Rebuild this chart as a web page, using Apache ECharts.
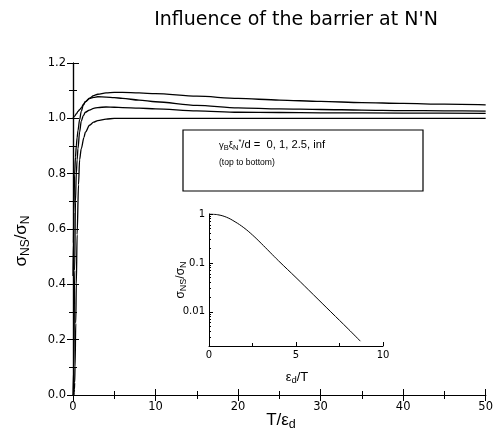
<!DOCTYPE html>
<html><head><meta charset="utf-8">
<script src="https://cdn.jsdelivr.net/npm/echarts@6/dist/echarts.min.js"></script>
<style>html,body{margin:0;padding:0;background:#fff}#c{width:496px;height:440px}</style>
</head><body><div id="c"></div>
<script>
// Main panel: sigma_NS/sigma_N vs T/eps_d, barrier gamma_B xi_N*/d = 0, 1, 2.5, inf
const tA = [0, 0.2, 0.4, 0.6, 0.8, 1, 1.25, 1.5, 2, 2.5, 3, 4, 5, 6, 8, 10, 15, 20, 25, 30, 35, 40, 45, 50];
const vA = [1.000, 1.008, 1.016, 1.025, 1.031, 1.038, 1.050, 1.060, 1.073, 1.082, 1.087, 1.092, 1.094, 1.094, 1.092, 1.089, 1.080, 1.072, 1.066, 1.061, 1.057, 1.054, 1.051, 1.049];
const tB = [0, 0.05, 0.1, 0.2, 0.3, 0.4, 0.5, 0.6, 0.8, 1, 1.25, 1.5, 2, 2.5, 3, 4, 5, 6, 8, 10, 15, 20, 25, 30, 35, 40, 45, 50];
const vB = [0.43, 0.55, 0.66, 0.80, 0.86, 0.90, 0.93, 0.955, 0.995, 1.025, 1.048, 1.060, 1.071, 1.076, 1.078, 1.077, 1.075, 1.072, 1.066, 1.060, 1.047, 1.038, 1.034, 1.032, 1.030, 1.028, 1.027, 1.026];
const tC = [0, 0.1, 0.2, 0.3, 0.4, 0.5, 0.6, 0.8, 1, 1.25, 1.5, 2, 2.5, 3, 4, 5, 6, 8, 10, 15, 20, 25, 30, 40, 50];
const vC = [0, 0.10, 0.45, 0.70, 0.80, 0.85, 0.89, 0.95, 0.99, 1.010, 1.022, 1.030, 1.036, 1.039, 1.041, 1.040, 1.039, 1.037, 1.034, 1.027, 1.022, 1.021, 1.020, 1.019, 1.018];
const tD = [0, 0.115, 0.125, 0.143, 0.167, 0.2, 0.25, 0.333, 0.4, 0.5, 0.667, 0.8, 1, 1.32, 1.5, 2, 2.5, 3, 4, 5, 10, 20, 30, 40, 50];
const vD = [0, 0.002, 0.004, 0.009, 0.02, 0.045, 0.1, 0.26, 0.40, 0.58, 0.76, 0.85, 0.89, 0.93, 0.95, 0.975, 0.986, 0.992, 0.997, 1.0, 1.0, 1.0, 1.0, 1.0, 1.0];
// Inset: sigma_NS/sigma_N vs eps_d/T (log scale)
const tInset = [0, 0.5, 1, 1.5, 2, 2.5, 3, 3.5, 4, 5, 6, 7, 8, 8.7];
const vInset = [1, 0.966, 0.861, 0.692, 0.525, 0.372, 0.251, 0.166, 0.110, 0.0501, 0.0224, 0.0100, 0.00447, 0.00251];

const insetYTicks = [0.01, 0.1, 1];

const FONT = 'DejaVu Sans, sans-serif';
const FONT2 = 'Liberation Sans, Arial, sans-serif';
const pair = (t, v) => t.map((x, i) => [x, v[i]]);

const chart = echarts.init(document.getElementById('c'), null, {renderer: 'canvas'});

const mainAxis = (extra) => Object.assign({
  axisLine: {lineStyle: {color: '#000', width: 1.2}},
  axisTick: {inside: false, length: -6, lineStyle: {color: '#000', width: 1}},
  minorTick: {show: true, splitNumber: 2, length: -4, lineStyle: {color: '#000', width: 1}},
  splitLine: {show: false},
  axisLabel: {color: '#000', fontFamily: FONT, fontSize: 11.5}
}, extra);

const lineSeries = (data, xi, yi) => ({
  type: 'line', data, xAxisIndex: xi, yAxisIndex: yi, showSymbol: false, symbol: 'none',
  smooth: 0.3, smoothMonotone: 'x', lineStyle: {color: '#000', width: 1.3}, silent: true, animation: false, clip: true
});

chart.setOption({
  animation: false,
  grid: [
    {left: 73, top: 63, width: 416, height: 332},
    {left: 209, top: 214, width: 174, height: 132}
  ],
  xAxis: [
    mainAxis({gridIndex: 0, type: 'value', min: 0, max: 50, interval: 10, position: 'bottom',
      axisLabel: {color: '#000', fontFamily: FONT, fontSize: 11.5, margin: 6}}),
    mainAxis({gridIndex: 0, type: 'value', min: 0, max: 50, interval: 10, position: 'top', axisLabel: {show: false}}),
    {gridIndex: 1, type: 'value', min: 0, max: 10, interval: 5,
      axisLine: {lineStyle: {color: '#000', width: 1}},
      axisTick: {inside: false, length: -4, lineStyle: {color: '#000'}},
      minorTick: {show: true, splitNumber: 2, length: -3, lineStyle: {color: '#000'}},
      splitLine: {show: false},
      axisLabel: {color: '#000', fontFamily: FONT, fontSize: 10, margin: 4}}
  ],
  yAxis: [
    mainAxis({gridIndex: 0, type: 'value', min: 0, max: 1.2, interval: 0.2, position: 'left',
      axisLabel: {color: '#000', fontFamily: FONT, fontSize: 11.5, margin: 7, formatter: v => v.toFixed(1)}}),
    mainAxis({gridIndex: 0, type: 'value', min: 0, max: 1.2, interval: 0.2, position: 'right', axisLabel: {show: false}}),
    {gridIndex: 1, type: 'log', min: 0.002, max: 1, logBase: 10,
      axisLine: {lineStyle: {color: '#000', width: 1}},
      axisTick: {inside: false, length: -4, lineStyle: {color: '#000'}},
      minorTick: {show: true, splitNumber: 9, length: -2, lineStyle: {color: '#000'}},
      splitLine: {show: false},
      axisLabel: {color: '#000', fontFamily: FONT, fontSize: 10, margin: 4, showMinLabel: false,
        formatter: v => { const r = +(+v).toPrecision(3); return insetYTicks.indexOf(r) >= 0 ? String(r) : ''; }}}
  ],
  series: [
    lineSeries(pair(tA, vA), 0, 0),
    lineSeries(pair(tB, vB), 0, 0),
    lineSeries(pair(tC, vC), 0, 0),
    lineSeries(pair(tD, vD), 0, 0),
    Object.assign(lineSeries(pair(tInset, vInset), 2, 2), {smooth: 0.4, smoothMonotone: null, lineStyle: {color: '#000', width: 1}})
  ],
  graphic: [
    {type: 'text', x: 296, y: 20, z: 11, style: {text: "Influence of the barrier at N'N", fontFamily: FONT, fontSize: 19, fill: '#000', align: 'center', verticalAlign: 'middle'}},
    {type: 'text', x: 21, y: 241, rotation: Math.PI / 2, z: 11, style: {
      text: '{a|σ}{s|NS}{a|/σ}{s|N}', align: 'center', verticalAlign: 'middle',
      rich: {a: {fontFamily: FONT2, fontSize: 17, fill: '#000'}, s: {fontFamily: FONT2, fontSize: 12, fill: '#000', padding: [9, 0, 0, 0]}}}},
    {type: 'text', x: 281, y: 420, z: 11, style: {
      text: '{a|T/ε}{s|d}', align: 'center', verticalAlign: 'middle',
      rich: {a: {fontFamily: FONT2, fontSize: 17, fill: '#000'}, s: {fontFamily: FONT2, fontSize: 12.5, fill: '#000', padding: [9, 0, 0, 0]}}}},
    {type: 'text', x: 181, y: 280, rotation: Math.PI / 2, z: 11, style: {
      text: '{a|σ}{s|NS}{a|/σ}{s|N}', align: 'center', verticalAlign: 'middle',
      rich: {a: {fontFamily: FONT2, fontSize: 12, fill: '#000'}, s: {fontFamily: FONT2, fontSize: 9, fill: '#000', padding: [6, 0, 0, 0]}}}},
    {type: 'text', x: 297, y: 377, z: 11, style: {
      text: '{a|ε}{s|d}{a|/T}', align: 'center', verticalAlign: 'middle',
      rich: {a: {fontFamily: FONT2, fontSize: 13, fill: '#000'}, s: {fontFamily: FONT2, fontSize: 9.5, fill: '#000', padding: [7, 0, 0, 0]}}}},
    {type: 'rect', shape: {x: 183, y: 130, width: 240, height: 61}, style: {fill: '#fff', stroke: '#000', lineWidth: 1.2}, z: 10},
    {type: 'text', x: 219, y: 145, z: 11, style: {
      text: '{g|γ}{s|B}{g|ξ}{s|N}{p|*}{t|/d =  0, 1, 2.5, inf}', verticalAlign: 'middle',
      rich: {
        g: {fontFamily: FONT2, fontSize: 9.5, fill: '#000'},
        s: {fontFamily: FONT2, fontSize: 7.5, fill: '#000', padding: [5, 0, 0, 0]},
        p: {fontFamily: FONT2, fontSize: 7.5, fill: '#000', padding: [0, 0, 7, 0]},
        t: {fontFamily: FONT2, fontSize: 11.2, fill: '#000'}
      }}},
    {type: 'text', x: 219, y: 163, z: 11, style: {text: '(top to bottom)', fontFamily: FONT2, fontSize: 8.6, fill: '#000', verticalAlign: 'middle'}}
  ]
});
</script></body></html>
